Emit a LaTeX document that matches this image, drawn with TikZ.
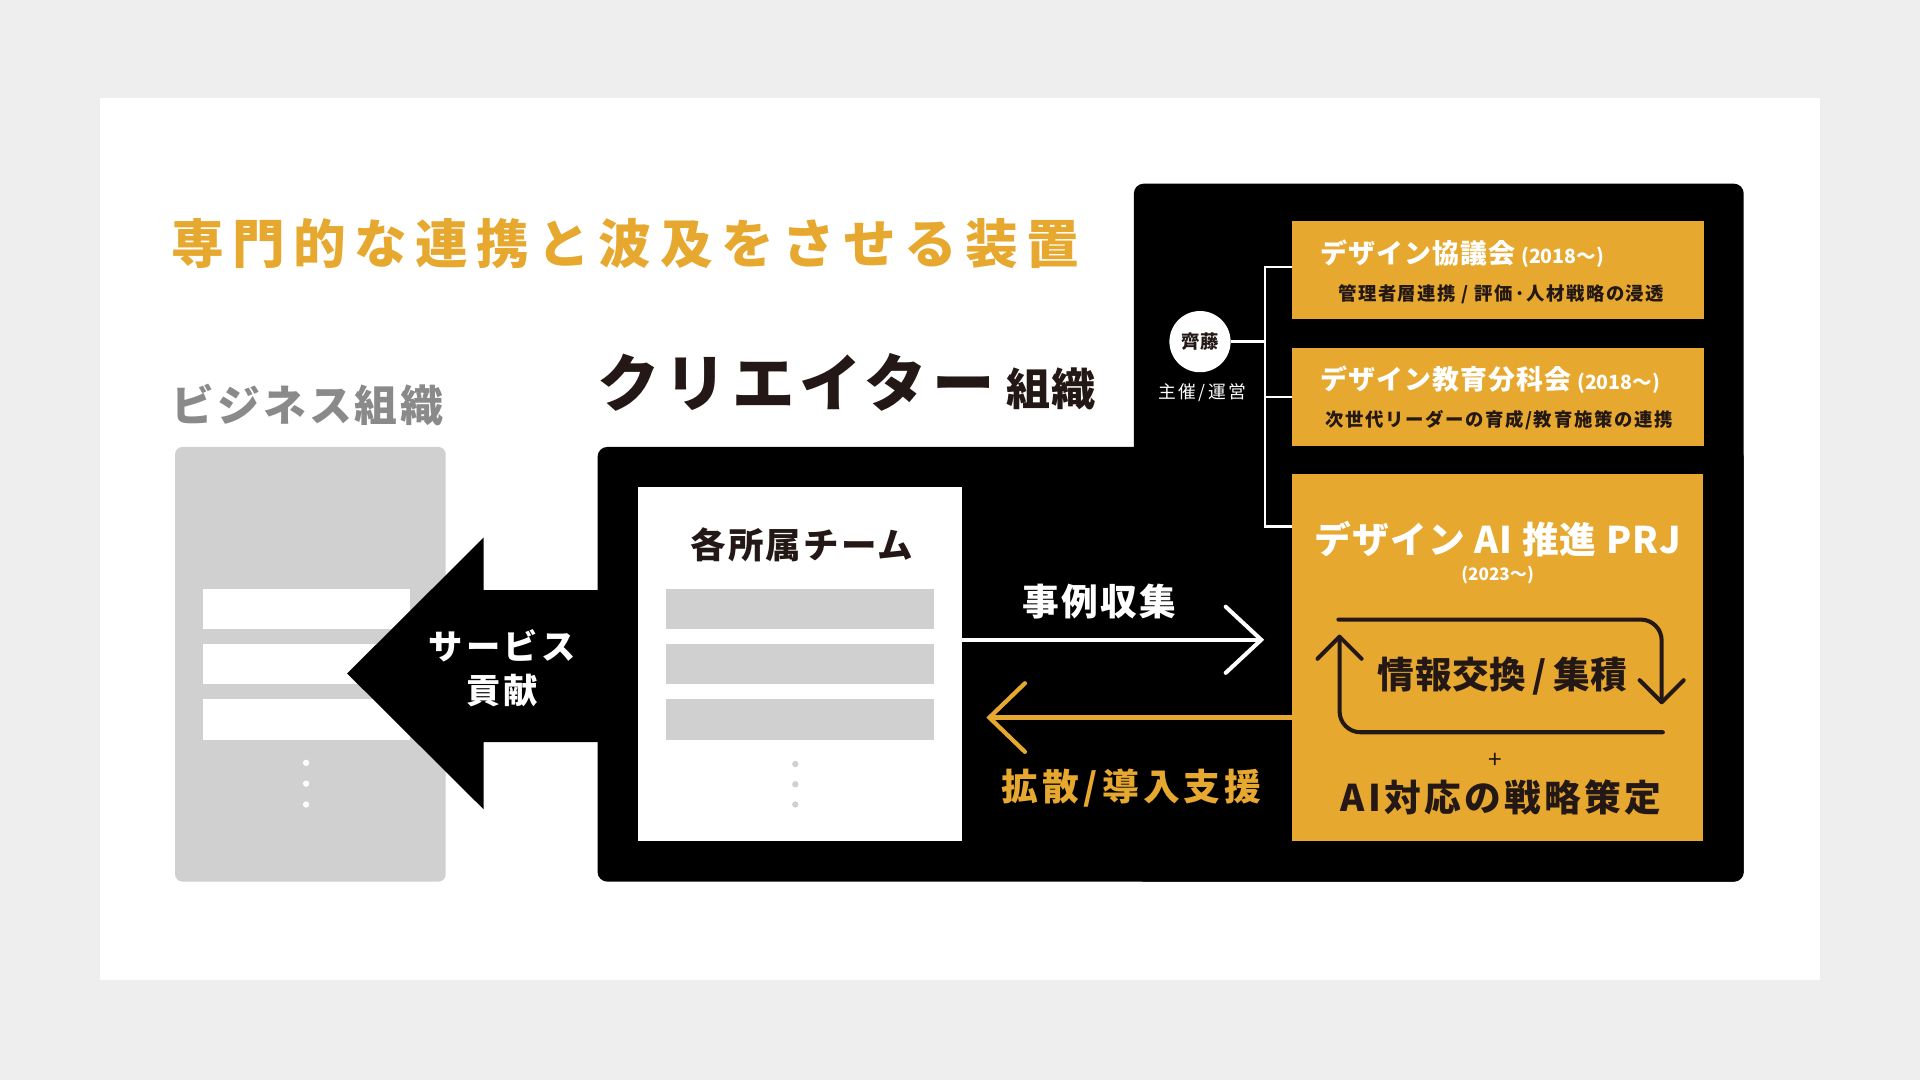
\documentclass[tikz,border=0pt]{standalone}
\usepackage{fontspec}
\setmainfont{Noto Sans CJK JP}
\definecolor{bgc}{HTML}{EEEEEE}
\definecolor{org}{HTML}{E6A82E}
\definecolor{lgray}{HTML}{D0D0D0}
\definecolor{tgray}{HTML}{8A8A8A}
\definecolor{ink}{HTML}{231815}
\newcommand\fs[1]{\fontsize{#1}{#1}\selectfont}
\newcommand\lsp[1]{\addfontfeatures{LetterSpace=#1}}
\begin{document}
\begin{tikzpicture}[x=1pt,y=-1pt,
  txt/.style={inner sep=0pt, outer sep=0pt},
  wline/.style={draw=white, line width=2pt},
  loopline/.style={draw=ink, line width=3.3pt, line cap=round, line join=round},
  plainbox/.style={inner sep=0pt, outer sep=0pt, anchor=north west}]
% background and panel
\fill[bgc] (0,0) rectangle (1568,882);
\fill[white] (82,80) rectangle (1486,800);
\useasboundingbox (0,0) rectangle (1568,882);

% title
\node[txt, anchor=west, text=org, font={\fs{43}\bfseries\lsp{16}}] (title) at (140,199) {専門的な連携と波及をさせる装置};

% business org
\node[txt, anchor=west, text=tgray, font={\fs{35}\bfseries\lsp{7}}] (bizlabel) at (140,331) {ビジネス組織};
\node[plainbox, fill=lgray, rounded corners=6pt, minimum width=221pt, minimum height=355pt] (biz) at (143,365) {};
\foreach \i/\y in {1/481,2/526,3/571}{
  \node[plainbox, fill=white, minimum width=169pt, minimum height=33pt] (bizbar\i) at (166,\y) {};
}
\foreach \y in {623,640,657}{ \fill[white] (250,\y) circle (2.6); }

% creator org label
\node[txt, anchor=west, text=ink, font={\fs{51}\bfseries\lsp{8}}] (crlabel) at (488,312) {クリエイター};
\node[txt, anchor=west, text=ink, font={\fs{36}\bfseries\lsp{3}}] (crlabel2) at (822,318) {組織};

% black shape
\fill[black, rounded corners=8pt] (488,365) rectangle (1424,720);
\fill[black, rounded corners=8pt] (926,150) rectangle (1424,720);

% big arrow
\fill[black] (283.5,550) -- (395,439) -- (395,482) -- (492,482) -- (492,606) -- (395,606) -- (395,661) -- cycle;
\node[txt, text=white, font={\fs{28}\bfseries\lsp{10}}] (svc1) at (410,527) {サービス};
\node[txt, text=white, font={\fs{28}\bfseries\lsp{10}}] (svc2) at (410,564) {貢献};

% team box
\node[plainbox, fill=white, minimum width=265pt, minimum height=289pt] (team) at (521,398) {};
\node[txt, text=ink, font={\fs{29}\bfseries\lsp{6}}] (teamlabel) at (655,445) {各所属チーム};
\foreach \i/\y in {1/481,2/526,3/571}{
  \node[plainbox, fill=lgray, minimum width=219pt, minimum height=33pt] (teambar\i) at (544,\y) {};
}
\foreach \y in {624,640.5,657}{ \fill[lgray] (649.5,\y) circle (2.6); }

% orange boxes
\node[plainbox, fill=org, minimum width=336pt, minimum height=80pt] (b1) at (1055.5,180.5) {};
\node[plainbox, fill=org, minimum width=336pt, minimum height=80pt] (b2) at (1055.5,284) {};
\node[plainbox, fill=org, minimum width=336pt, minimum height=300pt] (b3) at (1055,387) {};

% white arrow: case collection
\coordinate (wtip) at (1030,522.5);
\draw[draw=white, line width=3pt] (team.east |- wtip) -- (wtip);
\draw[draw=white, line width=3.3pt, line cap=round, line join=miter] (1001,495.5) -- (wtip) -- (1001,549.5);
\node[txt, text=white, font={\fs{30}\bfseries\lsp{6}}] (collect) at (898,491) {事例収集};

% orange arrow: diffusion
\coordinate (otip) at (808,586);
\draw[draw=org, line width=3.5pt] (b3.west |- otip) -- (otip);
\draw[draw=org, line width=3.5pt, line cap=round, line join=miter] (837,558) -- (otip) -- (837,614);
\node[txt, text=org, font={\fs{30}\bfseries\lsp{10}}] (spread) at (924,644) {拡散\kern4pt/\kern4pt導入支援};

% connectors from Saito
\node[circle, fill=white, minimum size=50pt, inner sep=0pt, text=ink, font={\fs{15}\bfseries\lsp{3}}] (saito) at (980,279) {齊藤};
\node[txt, text=white, font={\fs{14.5}\lsp{9}}] (host) at (982,320.5) {主催\,/\,運営};
\coordinate (jt) at (1033,218);
\coordinate (jm) at (1033,324);
\coordinate (jb) at (1033,430);
\draw[wline] (saito.east) -- (saito.east -| jt);
\draw[wline] (jt -| b1.west) -- (jt) -- (jb) -- (jb -| b3.west);
\draw[wline] (jm) -- (jm -| b2.west);

% box 1 texts
\node[txt, anchor=west, text=white, font={\fs{22}\bfseries\lsp{4}}] (b1t) at (1078,207) {デザイン協議会\hspace{5pt}{\fs{16}\addfontfeatures{LetterSpace=0}(2018〜)}};
\node[txt, text=ink, font={\fs{15}\bfseries\lsp{8}}] (b1s) at (1226,240) {管理者層連携 / 評価·人材戦略の浸透};
% box 2 texts
\node[txt, anchor=west, text=white, font={\fs{22}\bfseries\lsp{4}}] (b2t) at (1078,310) {デザイン教育分科会\hspace{5pt}{\fs{16}\addfontfeatures{LetterSpace=0}(2018〜)}};
\node[txt, text=ink, font={\fs{15}\bfseries\lsp{9}}] (b2s) at (1224,343) {次世代リーダーの育成/教育施策の連携};
% box 3 texts
\node[txt, text=white, font={\fs{30}\bfseries\lsp{3}}] (b3t) at (1223,440) {デザイン AI 推進 PRJ};
\node[txt, text=white, font={\fs{14}\bfseries}] (b3y) at (1223,469.5) {(2023〜)};
\node[txt, text=ink, font={\fs{30}\bfseries\lsp{2}}] (info) at (1227,552) {情報交換\,/\,集積};
\node[txt, text=ink, font={\fs{20}}] (plus) at (1221,621) {+};
\node[txt, text=ink, font={\fs{30}\bfseries\lsp{9}}] (strat) at (1226,651) {AI対応の戦略策定};

% loop arrows
\draw[loopline, rounded corners=17pt] (1093,506) -- (1357,506) -- (1357,573);
\draw[loopline] (1339,555.5) -- (1357,573.5) -- (1375,555.5);
\draw[loopline, rounded corners=17pt] (1358,598) -- (1094,598) -- (1094,520);
\draw[loopline] (1076,538) -- (1094,520) -- (1112,538);
\end{tikzpicture}
\end{document}
